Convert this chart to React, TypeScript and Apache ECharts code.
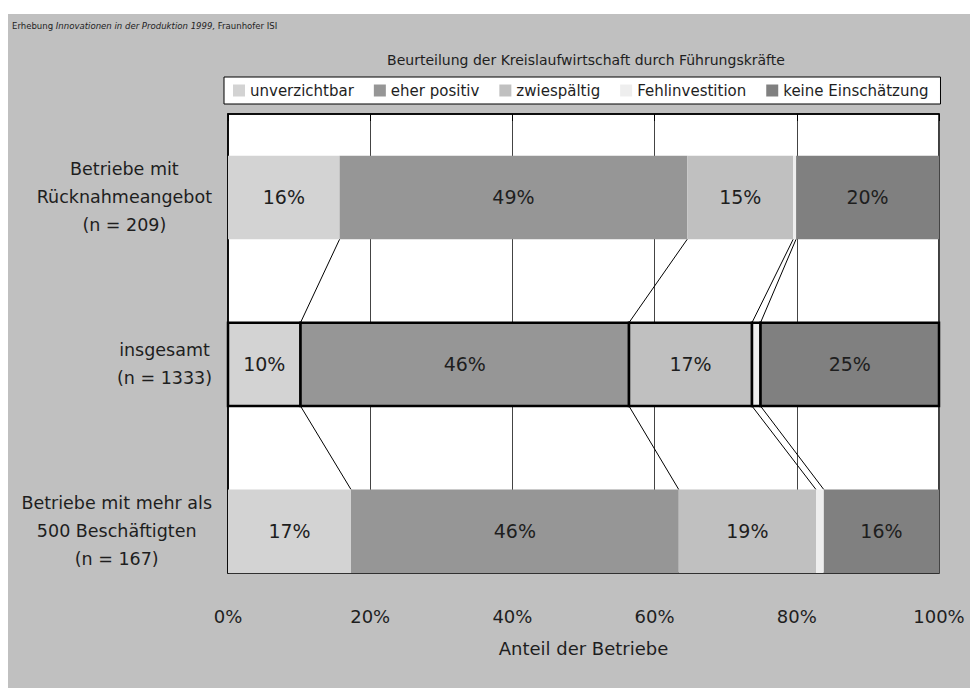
import React, { useEffect, useRef } from "react";
import * as echarts from "echarts";

// ---- data ----
const groupLabels = [
  ["Betriebe mit", "Rücknahmeangebot", "(n = 209)"],
  ["insgesamt", "(n = 1333)"],
  ["Betriebe mit mehr als", "500 Beschäftigten", "(n = 167)"],
];
const groupPositions = [0.5, 1.5, 2.5];
const seriesNames = ["unverzichtbar", "eher positiv", "zwiespältig", "Fehlinvestition", "keine Einschätzung"];
const unverzichtbar = [15.7, 10.2, 17.3];
const eherPositiv = [48.9, 46.2, 46.1];
const zwiespaeltig = [14.9, 17.3, 19.3];
const fehlinvestition = [0.4, 1.2, 1.1];
const keineEinschaetzung = [20.1, 25.1, 16.2];
const xTicks = [0, 20, 40, 60, 80, 100];
const titleText = "Beurteilung der Kreislaufwirtschaft durch Führungskräfte";
const xAxisName = "Anteil der Betriebe";
const highlightedGroup = 1;

const seriesValues = [unverzichtbar, eherPositiv, zwiespaeltig, fehlinvestition, keineEinschaetzung];
const colors = ["#d3d3d3", "#969696", "#c0c0c0", "#eeeeee", "#808080"];
const FONT = "'DejaVu Sans', 'Open Sans', sans-serif";
const SMALL_FONT = "'Liberation Sans Narrow', 'DejaVu Sans Condensed', sans-serif";
const TEXT = "#1e1e1e";
const BAR_HALF = 0.25;

export default function App() {
  const ref = useRef<HTMLDivElement>(null);
  useEffect(() => {
    if (!ref.current) return;
    const chart = echarts.init(ref.current, null, { renderer: "svg" });

    const cum: number[][] = groupPositions.map((_, g) => {
      const arr = [0];
      seriesValues.forEach((vals) => arr.push(arr[arr.length - 1] + vals[g]));
      return arr;
    });

    const segSeries = seriesNames.map((name, s) => ({
      type: "custom",
      name,
      itemStyle: { color: colors[s] },
      encode: { x: [0, 1], y: 2 },
      data: groupPositions.map((pos, g) => [cum[g][s], cum[g][s + 1], pos, seriesValues[s][g], g]),
      renderItem: (params: any, api: any) => {
        const x0 = api.value(0);
        const x1 = api.value(1);
        const y = api.value(2);
        const v = api.value(3);
        const g = api.value(4);
        const pA = api.coord([x0, y - BAR_HALF]);
        const pB = api.coord([x1, y + BAR_HALF]);
        const hl = g === highlightedGroup;
        const children: any[] = [
          {
            type: "rect",
            shape: { x: pA[0], y: pA[1], width: pB[0] - pA[0], height: pB[1] - pA[1] },
            style: {
              fill: api.visual("color"),
              stroke: hl ? "#000" : null,
              lineWidth: hl ? 2.5 : 0,
            },
          },
        ];
        if (v >= 5) {
          children.push({
            type: "text",
            x: (pA[0] + pB[0]) / 2,
            y: (pA[1] + pB[1]) / 2,
            style: {
              text: Math.round(v) + "%",
              fill: TEXT,
              font: `19px ${FONT}`,
              align: "center",
              verticalAlign: "middle",
            },
          });
        }
        return { type: "group", children };
      },
      z: 3,
    }));

    const connectorData: number[][] = [];
    for (let g = 0; g < groupPositions.length - 1; g++) {
      for (let k = 1; k < seriesNames.length; k++) {
        connectorData.push([cum[g][k], groupPositions[g] + BAR_HALF, cum[g + 1][k], groupPositions[g + 1] - BAR_HALF]);
      }
    }
    const connectorSeries = {
      type: "custom",
      name: "connectors",
      encode: { x: [0, 2], y: [1, 3] },
      data: connectorData,
      renderItem: (params: any, api: any) => {
        const p1 = api.coord([api.value(0), api.value(1)]);
        const p2 = api.coord([api.value(2), api.value(3)]);
        return {
          type: "line",
          shape: { x1: p1[0], y1: p1[1], x2: p2[0], y2: p2[1] },
          style: { stroke: "#000", lineWidth: 1 },
        };
      },
      z: 2,
    };

    chart.setOption({
      animation: false,
      backgroundColor: "transparent",
      textStyle: { fontFamily: FONT },
      title: {
        text: titleText,
        left: 581,
        top: 48,
        textAlign: "center",
        textStyle: { fontSize: 14, fontWeight: "normal", color: TEXT, fontFamily: FONT },
      },
      legend: {
        data: seriesNames,
        left: 224,
        top: 77,
        icon: "rect",
        itemWidth: 12,
        itemHeight: 12,
        itemGap: 20,
        padding: [6, 12, 6, 9],
        backgroundColor: "#fff",
        borderColor: "#000",
        borderWidth: 1,
        textStyle: { fontSize: 15, color: TEXT, fontFamily: FONT },
      },
      grid: {
        left: 228,
        right: 31,
        top: 114,
        bottom: 115,
        show: true,
        backgroundColor: "#fff",
        borderColor: "#000",
        borderWidth: 1.5,
      },
      xAxis: {
        type: "value",
        min: xTicks[0],
        max: xTicks[xTicks.length - 1],
        interval: xTicks[1] - xTicks[0],
        name: xAxisName,
        nameLocation: "middle",
        nameGap: 66,
        nameTextStyle: { fontSize: 18, color: TEXT, fontFamily: FONT },
        axisLine: { show: true, lineStyle: { color: "#000", width: 1.5 } },
        axisTick: { show: true, length: 7, lineStyle: { color: "#000" } },
        axisLabel: { formatter: "{value}%", margin: 34, fontSize: 18, color: TEXT, fontFamily: FONT },
        splitLine: { show: true, lineStyle: { color: "#444", width: 1 } },
      },
      yAxis: {
        type: "value",
        inverse: true,
        min: 0,
        max: 2.75,
        interval: 0.5,
        axisLine: { show: true, lineStyle: { color: "#000", width: 1.5 } },
        axisTick: { show: false },
        splitLine: { show: false },
        axisLabel: {
          margin: 16,
          align: "right",
          fontSize: 17.5,
          lineHeight: 28,
          color: TEXT,
          fontFamily: FONT,
          formatter: (v: number) => {
            const i = groupPositions.findIndex((p) => Math.abs(p - v) < 1e-6);
            if (i < 0) return "";
            return groupLabels[i].map((l) => `{c|${l}}`).join("\n");
          },
          rich: { c: { align: "center", fontSize: 17.5, lineHeight: 28, color: TEXT, fontFamily: FONT } },
        },
      },
      graphic: [
        {
          type: "text",
          left: 12,
          top: 20,
          style: {
            text: "Erhebung {i|Innovationen in der Produktion 1999,} Fraunhofer ISI",
            font: `9.5px ${SMALL_FONT}`,
            fill: TEXT,
            rich: {
              i: { fontStyle: "italic", fontSize: 9.5, fontFamily: SMALL_FONT, fill: TEXT },
            },
          },
        },
      ],
      series: [connectorSeries, ...segSeries],
    });
    return () => chart.dispose();
  }, []);

  return (
    <div style={{ position: "fixed", left: 0, top: 0, width: 970, height: 688, background: "#fff" }}>
      <div style={{ position: "absolute", left: 8, top: 14, width: 962, height: 674, background: "#c0c0c0" }} />
      <div ref={ref} style={{ position: "absolute", left: 0, top: 0, width: 970, height: 688 }} />
    </div>
  );
}
